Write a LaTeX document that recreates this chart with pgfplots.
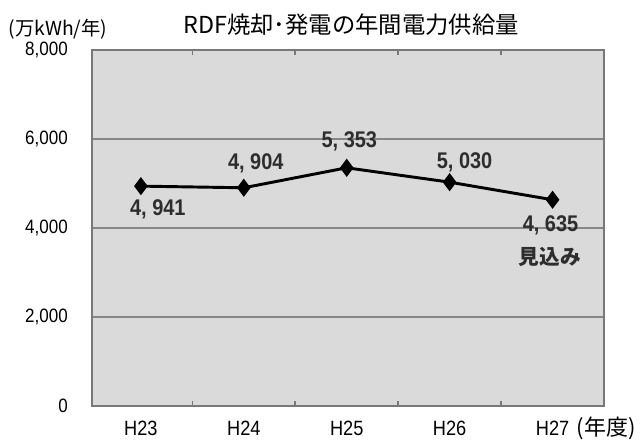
\documentclass[border=0pt]{standalone}
\usepackage{pgfplots}
\pgfplotsset{compat=1.18}
\usepackage{fontspec}
\setmainfont{Liberation Sans}[FakeStretch=0.88]
\newfontfamily\cjk{Noto Sans CJK JP}
\definecolor{bggray}{RGB}{218,218,218}
\definecolor{gridgray}{RGB}{135,135,135}
\definecolor{framegray}{RGB}{120,120,120}
\definecolor{lblgray}{RGB}{45,45,45}
\begin{document}
\begin{tikzpicture}
\useasboundingbox (-69pt,-24.75pt) rectangle (412.5pt,304.5pt);
\begin{axis}[
  at={(0pt,0pt)}, anchor=south west,
  scale only axis, width=384pt, height=267pt,
  xmin=-0.475, xmax=4.5, ymin=0, ymax=8000,
  axis background/.style={fill=bggray},
  axis line style={draw=framegray, line width=1.8pt},
  ytick={0,2000,4000,6000,8000},
  yticklabels={0,{2,000},{4,000},{6,000},{8,000}},
  ymajorgrids, grid style={gridgray, line width=1.5pt},
  major tick length=0pt,
  xtick={0,1,2,3,4},
  xticklabels={H23,H24,H25,H26,H27},
  extra x ticks={0.5,1.5,2.5,3.5},
  extra x tick labels={},
  extra x tick style={major tick length=4pt, tick align=inside, tick style={framegray, line width=1.2pt}, grid=none},
  /pgf/number format/assume math mode=true,
  ticklabel style={font=\fontsize{14.5}{16}\selectfont, text=black},
  yticklabel style={anchor=east, inner sep=0pt, xshift=-18pt},
  xticklabel style={font=\fontsize{15.5}{17}\selectfont, anchor=north, inner sep=0pt, yshift=-11pt},
  clip=false,
]
\addplot[black, line width=2.2pt, mark=diamond*, mark size=5pt, mark options={fill=black}]
  coordinates {(0,4941) (1,4904) (2,5353) (3,5030) (4,4635)};
\begin{scope}[every node/.style={font=\fontsize{17}{19}\selectfont\bfseries, text=lblgray, inner sep=0pt}]
\node[xshift=12.75pt, yshift=-17.25pt] at (axis cs:0,4941) {4, 941};
\node[xshift=9pt, yshift=18pt] at (axis cs:1,4904) {4, 904};
\node[xshift=2pt, yshift=19.5pt] at (axis cs:2,5353) {5, 353};
\node[xshift=11.25pt, yshift=15pt] at (axis cs:3,5030) {5, 030};
\node[xshift=-1.5pt, yshift=-19.5pt] at (axis cs:4,4635) {4, 635};
\node[xshift=-2pt, yshift=-42.75pt, font=\cjk\fontsize{15.5}{17}\selectfont\bfseries] at (axis cs:4,4635) {見込み};
\end{scope}
\end{axis}
\node[font=\cjk\fontsize{17.5}{19}\selectfont, inner sep=0pt] at (194.25pt,285.75pt) {RDF焼却･発電の年間電力供給量};
\node[font=\cjk\fontsize{14.5}{16}\selectfont, inner sep=0pt] at (-25.5pt,282.75pt) {(万kWh/年)};
\node[font=\cjk\fontsize{16.5}{18}\selectfont, inner sep=0pt] at (385.5pt,-16.5pt) {(年度)};
\end{tikzpicture}
\end{document}
